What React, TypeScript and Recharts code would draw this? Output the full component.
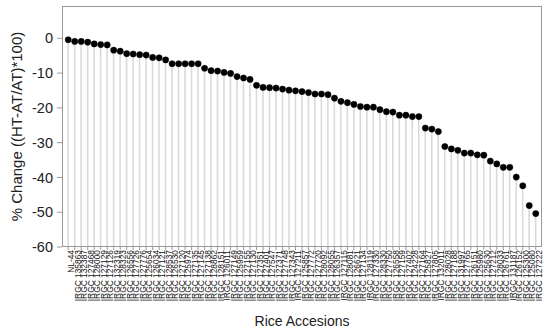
import { ComposedChart, Bar, Line, XAxis, YAxis } from 'recharts';

const accessions = [
  'NL-44', 'IRGC 135863', 'IRGC 132387', 'IRGC 127468', 'IRGC 128000', 'IRGC 127129',
  'IRGC 127126', 'IRGC 132319', 'IRGC 128323', 'IRGC 126556', 'IRGC 127726', 'IRGC 127776',
  'IRGC 125654', 'IRGC 126034', 'IRGC 127121', 'IRGC 128537', 'IRGC 126530', 'IRGC 127120',
  'IRGC 125974', 'IRGC 127135', 'IRGC 127145', 'IRGC 127138', 'IRGC 128862', 'IRGC 128151',
  'IRGC 126011', 'IRGC 127149', 'IRGC 125959', 'IRGC 127155', 'IRGC 127130', 'IRGC 127351',
  'IRGC 127401', 'IRGC 127547', 'IRGC 127371', 'IRGC 127748', 'IRGC 127343', 'IRGC 127211',
  'IRGC 125857', 'IRGC 127772', 'IRGC 127720', 'IRGC 128092', 'IRGC 128055', 'IRGC 126357',
  'IRGC 127115', 'IRGC 128081', 'IRGC 126621', 'IRGC 127134', 'IRGC 128119', 'IRGC 127330',
  'IRGC 128330', 'IRGC 127750', 'IRGC 126558', 'IRGC 127159', 'IRGC 127402', 'IRGC 124228',
  'IRGC 127164', 'IRGC 125827', 'IRGC 127805', 'IRGC 132011', 'IRGC 128028', 'IRGC 127188',
  'IRGC 131997', 'IRGC 127765', 'IRGC 126151', 'IRGC 125980', 'IRGC 125630', 'IRGC 127212',
  'IRGC 128033', 'IRGC 126761', 'IRGC 131187', 'IRGC 126152', 'IRGC 125300', 'IRGC 125080',
  'IRGC 127222',
];

const pctChange = [
  -0.4, -0.9, -0.9, -1.1, -1.6, -1.8, -1.9, -3.4, -3.7, -4.4, -4.5, -4.7,
  -4.8, -5.5, -5.6, -6.2, -7.3, -7.3, -7.3, -7.3, -7.3, -8.6, -9.3, -9.4,
  -9.8, -10.1, -11.0, -11.4, -11.8, -13.5, -14.1, -14.2, -14.3, -14.6, -14.9, -15.1,
  -15.3, -15.6, -16.0, -16.0, -16.2, -17.2, -18.1, -18.5, -19.0, -19.6, -19.8, -19.8,
  -20.5, -21.1, -21.2, -22.1, -22.1, -22.5, -22.5, -25.8, -26.1, -26.8, -31.1, -31.8,
  -32.2, -33.0, -33.0, -33.5, -33.6, -35.3, -36.1, -37.1, -37.1, -39.9, -42.4, -48.1,
  -50.4,
];

const yTicks = [-60, -50, -40, -30, -20, -10, 0];

const data = accessions.map((name, i) => ({
  name,
  value: pctChange[i],
  stem: [-60, pctChange[i]],
}));

const font = '"Liberation Sans", Arial, sans-serif';

// thin grey stem from the point down to the bottom of the plot
const Stem = (props: any) => {
  const { x, y, width, height } = props;
  const cx = x + width / 2;
  const top = Math.min(y, y + height);
  const bottom = Math.max(y, y + height);
  return <line x1={cx} x2={cx} y1={top} y2={bottom} stroke="#dadada" strokeWidth={1.6} />;
};

export default function App() {
  return (
    <div style={{ position: 'absolute', left: 0, top: 0, width: 550, height: 331, background: '#fff' }}>
      <ComposedChart
        width={550}
        height={331}
        data={data}
        margin={{ top: 6, right: 8, left: 0, bottom: 0 }}
        style={{ fontFamily: font }}
      >
        <XAxis
          dataKey="name"
          interval={0}
          height={84}
          padding={{ left: 3, right: 3 }}
          axisLine={false}
          stroke="#9a9a9a"
          tickSize={3}
          tickMargin={3}
          angle={-90}
          textAnchor="end"
          tick={{ fontSize: 8.4, fill: '#111', dy: -3 }}
          label={{ value: 'Rice Accesions', position: 'insideBottom', offset: 5, fontSize: 14, fill: '#222' }}
        />
        <YAxis
          domain={[-60, 9.3]}
          ticks={yTicks}
          width={62}
          axisLine={false}
          stroke="#9a9a9a"
          tickSize={5}
          tickMargin={4}
          tick={{ fontSize: 14.5, fill: '#222' }}
          label={{ value: '% Change ((HT-AT/AT)*100)', angle: -90, position: 'center', dx: -14, fontSize: 15, fill: '#222' }}
        />
        <Bar dataKey="stem" shape={<Stem />} isAnimationActive={false} />
        <Line
          dataKey="value"
          stroke="none"
          dot={{ r: 3.1, fill: '#000', stroke: '#000', strokeWidth: 0.5 }}
          activeDot={false}
          isAnimationActive={false}
        />
      </ComposedChart>
      <div
        style={{
          position: 'absolute',
          left: 62,
          top: 6,
          width: 480,
          height: 241,
          border: '1px solid #9a9a9a',
          boxSizing: 'border-box',
          pointerEvents: 'none',
        }}
      />
    </div>
  );
}
